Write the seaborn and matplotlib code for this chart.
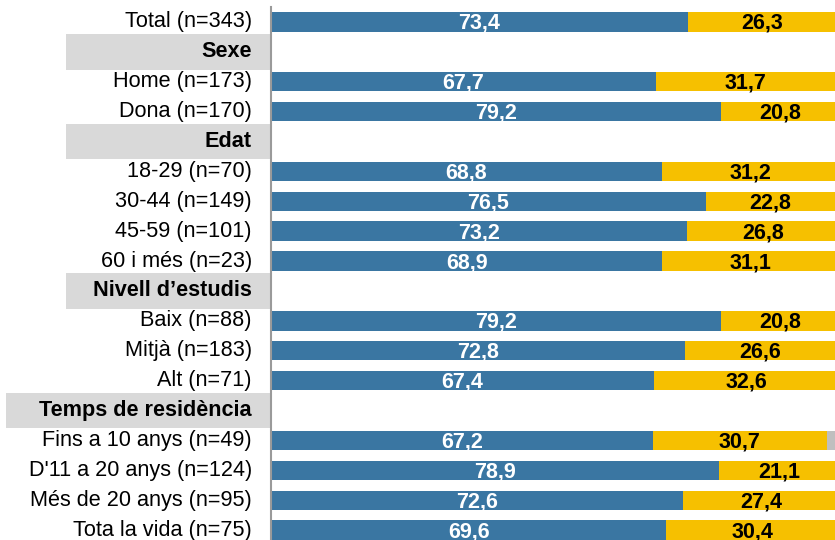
import numpy as np
import pandas as pd
import matplotlib
matplotlib.use("Agg")
import matplotlib.pyplot as plt
import seaborn as sns
from matplotlib.patches import Rectangle
from matplotlib.transforms import blended_transform_factory

# Data
rows = ["Total (n=343)", "Sexe", "Home (n=173)", "Dona (n=170)", "Edat",
        "18-29 (n=70)", "30-44 (n=149)", "45-59 (n=101)", "60 i més (n=23)",
        "Nivell d’estudis", "Baix (n=88)", "Mitjà (n=183)", "Alt (n=71)",
        "Temps de residència", "Fins a 10 anys (n=49)", "D'11 a 20 anys (n=124)",
        "Més de 20 anys (n=95)", "Tota la vida (n=75)"]
headers = ["Sexe", "Edat", "Nivell d’estudis", "Temps de residència"]
blue_vals = [73.4, np.nan, 67.7, 79.2, np.nan, 68.8, 76.5, 73.2, 68.9, np.nan,
             79.2, 72.8, 67.4, np.nan, 67.2, 78.9, 72.6, 69.6]
yellow_vals = [26.3, np.nan, 31.7, 20.8, np.nan, 31.2, 22.8, 26.8, 31.1, np.nan,
               20.8, 26.6, 32.6, np.nan, 30.7, 21.1, 27.4, 30.4]
grey_vals = [0.3, np.nan, 0.6, 0.0, np.nan, 0.0, 0.7, 0.0, 0.0, np.nan,
             0.0, 0.6, 0.0, np.nan, 2.1, 0.0, 0.0, 0.0]

BLUE = "#3a76a2"
YELLOW = "#f6c000"
GREY = "#bfbfbf"
HEADER_BG = "#d9d9d9"

df = pd.DataFrame({"row": rows, "blue": blue_vals, "yellow": yellow_vals, "grey": grey_vals}).fillna(0)
df["c1"] = df["blue"]
df["c2"] = df["c1"] + df["yellow"]
df["c3"] = df["c2"] + df["grey"]

sns.set_style("white")
plt.rcParams["font.family"] = ["Liberation Sans", "DejaVu Sans"]
plt.rcParams["text.color"] = "black"

fig = plt.figure(figsize=(8.35, 5.4), dpi=100)
ax = fig.add_axes([271 / 835, 0, 568 / 835, 533 / 540])

# stacked bars: draw cumulative totals back to front
for col, color in [("c3", GREY), ("c2", YELLOW), ("c1", BLUE)]:
    sns.barplot(data=df, x=col, y="row", order=rows, color=color, width=0.65,
                saturation=1, edgecolor="none", linewidth=0, ax=ax)

ax.set_xlim(0, 100)
ax.set_ylim(17.33, -0.5)
ax.set_xlabel("")
ax.set_ylabel("")
ax.set_xticks([])
ax.set_yticks([])
for s in ["top", "right", "bottom"]:
    ax.spines[s].set_visible(False)
ax.spines["left"].set_color("#9a9a9a")
ax.spines["left"].set_linewidth(1.5)

# value labels
for i, r in df.iterrows():
    if r["row"] in headers:
        continue
    ax.text(r["blue"] / 2, i + 0.05, f"{r['blue']:.1f}".replace(".", ","), ha="center", va="center",
            color="white", fontsize=15.5, fontweight="bold")
    ax.text(r["blue"] + r["yellow"] / 2, i + 0.05, f"{r['yellow']:.1f}".replace(".", ","), ha="center",
            va="center", color="black", fontsize=15.5, fontweight="bold")

# category labels and section headers
trans = blended_transform_factory(fig.transFigure, ax.transData)
label_x = 252 / 835
texts = []
for i, name in enumerate(rows):
    is_head = name in headers
    t = ax.text(label_x, i, name, transform=trans, ha="right", va="center", color="black",
                fontsize=15.6, fontweight="bold" if is_head else "normal", zorder=5)
    if is_head:
        texts.append((i, t))

# grey header boxes: fixed width, widened only when the text needs it
fig.canvas.draw()
renderer = fig.canvas.get_renderer()
for i, t in texts:
    bb = t.get_window_extent(renderer)
    left_px = 66 if bb.x0 - 66 > 20 else bb.x0 - 33
    left = left_px / 835
    ax.add_patch(Rectangle((left, i - 0.6), 270 / 835 - left, 1.2, transform=trans,
                           facecolor=HEADER_BG, edgecolor="none", clip_on=False, zorder=1))

fig.savefig("out.png", dpi=100)
